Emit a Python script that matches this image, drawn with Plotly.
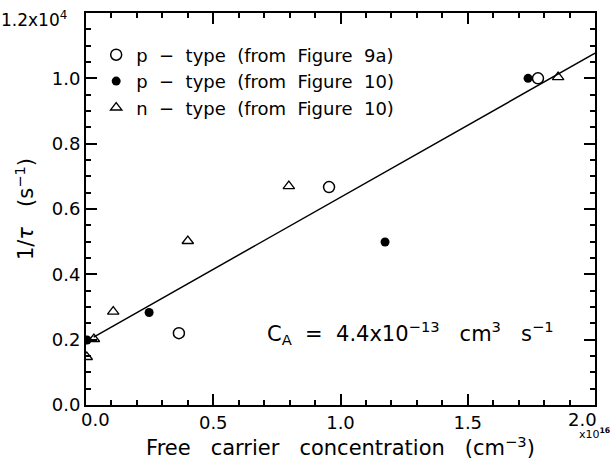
import plotly.graph_objects as go

# Free carrier concentration in units of 1e16 cm^-3, 1/tau in units of 1e4 s^-1
p9a_conc = [0.365, 0.955, 1.776]
p9a_rate = [0.220, 0.667, 1.000]

p10_conc = [0.004, 0.248, 1.175, 1.737]
p10_rate = [0.199, 0.283, 0.499, 1.000]

n10_conc = [0.003, 0.031, 0.107, 0.400, 0.797, 1.855]
n10_rate = [0.147, 0.202, 0.286, 0.502, 0.670, 1.004]

# Linear fit (C_A = 4.4e-13 cm^3 s^-1), endpoints
fit_conc = [0.03, 2.0]
fit_rate = [0.208, 1.077]

x_tickvals = [0.0, 0.5, 1.0, 1.5, 2.0]
x_ticktext = ["", "0.5", "1.0", "1.5", ""]
x_end_labels = ["0.0", "2.0"]          # drawn nudged inward from the axis ends
y_tickvals = [0.0, 0.2, 0.4, 0.6, 0.8, 1.0, 1.2]
y_ticktext = ["0.0", "0.2", "0.4", "0.6", "0.8", "1.0", ""]
y_top_label = "1.2x10<sup>4</sup>"
x_scale_label = "x10<sup><b>16</b></sup>"

FONT = "DejaVu Sans"
NB = "\u00a0"
SP = NB * 2
SP3 = NB * 3

fig = go.Figure()

fig.add_trace(go.Scatter(
    x=fit_conc, y=fit_rate, mode="lines",
    line=dict(color="black", width=1.5), showlegend=False, hoverinfo="skip",
))
fig.add_trace(go.Scatter(
    x=p9a_conc, y=p9a_rate, mode="markers",
    name=f"p{SP}\u2212{SP}type{SP}(from{SP}Figure{SP}9a)",
    marker=dict(symbol="circle-open", size=11, color="black", line=dict(width=1.5)),
))
fig.add_trace(go.Scatter(
    x=p10_conc, y=p10_rate, mode="markers",
    name=f"p{SP}\u2212{SP}type{SP}(from{SP}Figure{SP}10)",
    marker=dict(symbol="circle", size=9, color="black"),
))
fig.add_trace(go.Scatter(
    x=n10_conc, y=n10_rate, mode="markers",
    name=f"n{SP}\u2212{SP}type{SP}(from{SP}Figure{SP}10)",
    marker=dict(symbol="triangle-up-open", size=10, color="black", line=dict(width=1.3)),
))

tick_common = dict(
    showline=True, linecolor="black", linewidth=2, mirror="ticks",
    ticks="inside", ticklen=11, tickwidth=2, tickcolor="black",
    showgrid=False, zeroline=False, automargin=False, ticklabeloverflow="allow",
    tickfont=dict(family=FONT, size=18, color="black"),
)

fig.update_layout(
    xaxis=dict(
        range=[0, 2.0], tickvals=x_tickvals, ticktext=x_ticktext,
        minor=dict(dtick=0.1, ticks="inside", ticklen=5, tickwidth=1.5,
                   tickcolor="black", showgrid=False),
        title=dict(text=f"Free{SP3}carrier{SP3}concentration{SP3}(cm<sup>\u22123</sup>)",
                   font=dict(family=FONT, size=21, color="black"), standoff=6),
        **tick_common,
    ),
    yaxis=dict(
        range=[0, 1.2], tickvals=y_tickvals, ticktext=y_ticktext,
        minor=dict(dtick=0.05, ticks="inside", ticklen=5, tickwidth=1.5,
                   tickcolor="black", showgrid=False),
        title=dict(text=f"1/<i>\u03c4</i>{SP3}(s<sup>\u22121</sup>)",
                   font=dict(family=FONT, size=21, color="black"), standoff=12),
        **tick_common,
    ),
)

# end tick labels of the x axis, shifted inward
for xpos, label in zip([0.0177, 0.976], x_end_labels):
    fig.add_annotation(
        xref="paper", yref="paper", x=xpos, y=-0.038, xanchor="center", yanchor="middle",
        text=label, showarrow=False, font=dict(family=FONT, size=18, color="black"),
    )
fig.add_annotation(
    xref="paper", yref="paper", x=-0.0334, y=0.985, xanchor="right", yanchor="middle",
    text=y_top_label, showarrow=False, font=dict(family=FONT, size=17, color="black"),
)
fig.add_annotation(
    xref="paper", yref="paper", x=0.352, y=0.184, xanchor="left", yanchor="middle",
    text=(f"C<sub>A</sub>{SP}={SP}4.4x10<sup>\u221213</sup>{SP3}cm<sup>3</sup>"
          f"{SP3}s<sup>\u22121</sup>"),
    showarrow=False, font=dict(family=FONT, size=21, color="black"),
)
fig.add_annotation(
    xref="paper", yref="paper", x=1.033, y=-0.073, xanchor="right", yanchor="middle",
    text=x_scale_label, showarrow=False, font=dict(family=FONT, size=11, color="black"),
)

fig.update_layout(
    width=613, height=464,
    margin=dict(l=86, r=18, t=13, b=59),
    paper_bgcolor="white", plot_bgcolor="white",
    legend=dict(
        x=0.02, y=0.94, xanchor="left", yanchor="top",
        bgcolor="rgba(0,0,0,0)", borderwidth=0,
        font=dict(family=FONT, size=18, color="black"),
    ),
)

fig.write_html("out.html")
